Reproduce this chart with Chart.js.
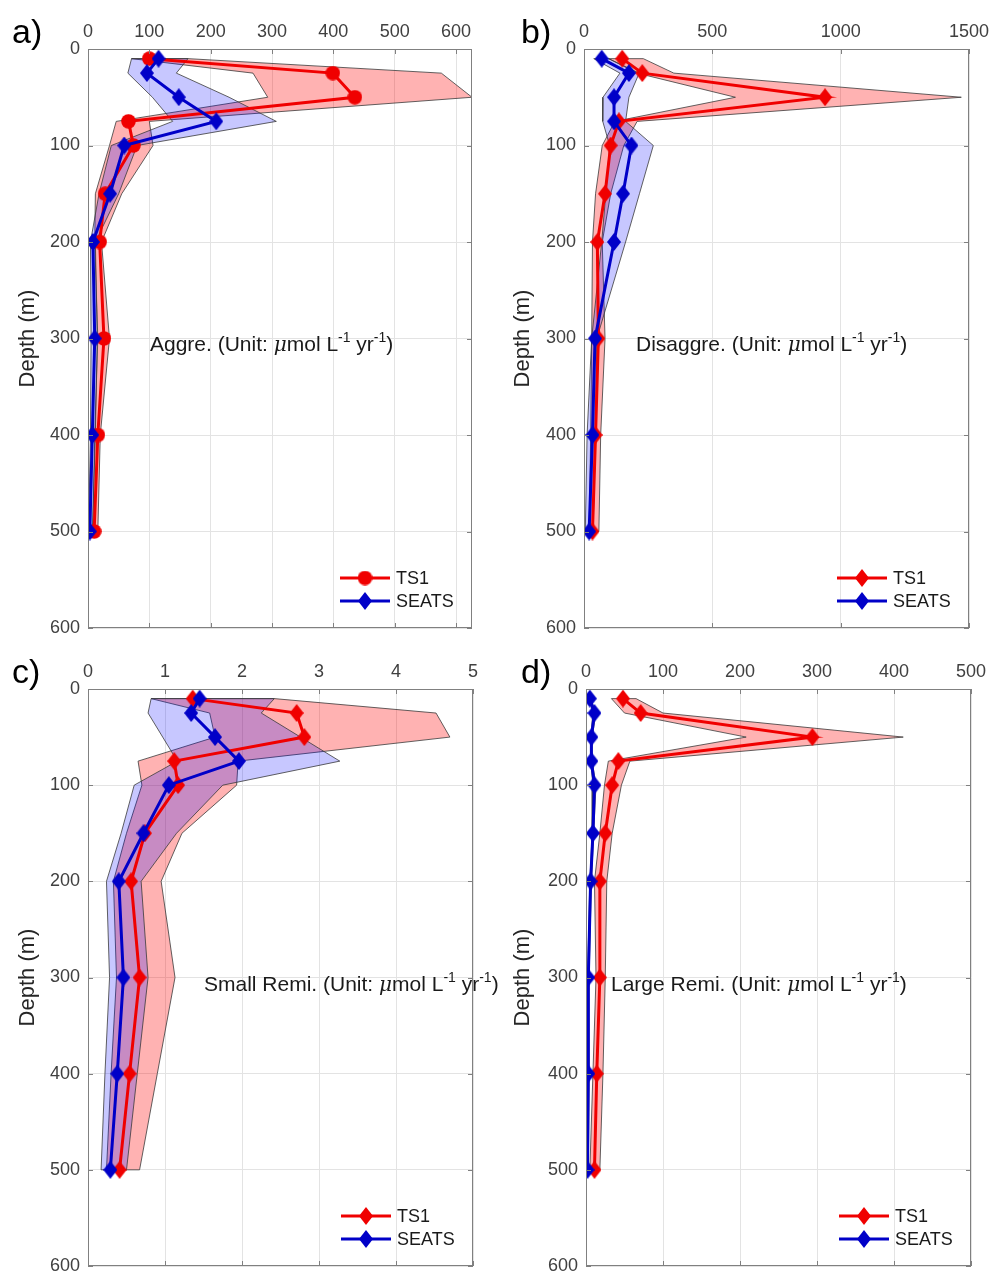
<!DOCTYPE html>
<html>
<head>
<meta charset="utf-8">
<script src="https://cdn.jsdelivr.net/npm/chart.js@4.4.1/dist/chart.umd.min.js"></script>
<style>
  body { margin: 0; background: #fff; }
  #fig { position: relative; width: 990px; height: 1277px; background: #fff;
         font-family: "Liberation Sans", Arial, Helvetica, sans-serif; }
  #fig canvas { position: absolute; }
  .tag { position: absolute; font-size: 34px; line-height: 34px; color: #000; }
  .note { position: absolute; font-size: 21px; line-height: 21px; color: #1a1a1a; white-space: nowrap; }
  .note sup { font-size: 14px; vertical-align: 9px; line-height: 0; }
  .note i { font-family: "DejaVu Serif", serif; font-size: 20px; }
</style>
</head>
<body>
<div id="fig">
  <canvas id="pa" width="495" height="640" style="left:0;top:0"></canvas>
  <canvas id="pb" width="495" height="640" style="left:495px;top:0"></canvas>
  <canvas id="pc" width="495" height="637" style="left:0;top:640px"></canvas>
  <canvas id="pd" width="495" height="637" style="left:495px;top:640px"></canvas>

  <div class="tag" style="left:12px;top:14px">a)</div>
  <div class="tag" style="left:521px;top:14px">b)</div>
  <div class="tag" style="left:12px;top:654px">c)</div>
  <div class="tag" style="left:521px;top:654px">d)</div>

  <div class="note" style="left:150px;top:333px">Aggre. (Unit: <i>μ</i>mol L<sup>-1</sup> yr<sup>-1</sup>)</div>
  <div class="note" style="left:636px;top:333px">Disaggre. (Unit: <i>μ</i>mol L<sup>-1</sup> yr<sup>-1</sup>)</div>
  <div class="note" style="left:204px;top:973px">Small Remi. (Unit: <i>μ</i>mol L<sup>-1</sup> yr<sup>-1</sup>)</div>
  <div class="note" style="left:611px;top:973px">Large Remi. (Unit: <i>μ</i>mol L<sup>-1</sup> yr<sup>-1</sup>)</div>
</div>

<script>
// sampling depths (m)
const depths = [10, 25, 50, 75, 100, 150, 200, 300, 400, 500];
const depthTicks = [0, 100, 200, 300, 400, 500, 600];

// a) aggregation
const aggTicks = [0, 100, 200, 300, 400, 500, 600];
const aggTS1 = [100, 399, 435, 66, 74, 28, 19, 26, 16, 10];
const aggTS1Lo = [71, 269, 293, 46, 35, 12, 11, 16, 11, 8];
const aggTS1Hi = [163, 576, 626, 100, 106, 55, 22, 35, 20, 16];
const aggSEATS = [115, 96, 148, 209, 59, 36, 8, 11, 7, 3];
const aggSEATSLo = [71, 65, 105, 138, 38, 18, 4, 5, 4, 1];
const aggSEATSHi = [163, 144, 230, 307, 80, 50, 12, 15, 12, 7];

// b) disaggregation
const disTicks = [0, 500, 1000, 1500];
const disTS1 = [149, 227, 939, 136, 104, 82, 52, 56, 45, 33];
const disTS1Lo = [96, 207, 590, 120, 71, 45, 33, 30, 26, 20];
const disTS1Hi = [231, 350, 1470, 207, 155, 104, 71, 82, 65, 58];
const disSEATS = [69, 175, 117, 117, 185, 152, 117, 43, 33, 20];
const disSEATSLo = [38, 140, 74, 73, 100, 85, 69, 30, 12, 5];
const disSEATSHi = [96, 215, 175, 162, 270, 216, 162, 50, 45, 35];

// c) small particle remineralization
const smlTicks = [0, 1, 2, 3, 4, 5];
const smlTS1 = [1.36, 2.71, 2.81, 1.12, 1.17, 0.74, 0.56, 0.67, 0.54, 0.41];
const smlTS1Lo = [0.82, 1.58, 1.65, 0.65, 0.70, 0.50, 0.33, 0.37, 0.30, 0.24];
const smlTS1Hi = [2.42, 4.52, 4.70, 1.95, 1.93, 1.22, 0.95, 1.13, 0.90, 0.67];
const smlSEATS = [1.45, 1.34, 1.65, 1.96, 1.05, 0.72, 0.40, 0.46, 0.38, 0.29];
const smlSEATSLo = [0.82, 0.78, 0.97, 1.16, 0.60, 0.43, 0.24, 0.28, 0.22, 0.17];
const smlSEATSHi = [2.42, 2.25, 2.76, 3.27, 1.75, 1.15, 0.69, 0.78, 0.64, 0.50];

// d) large particle remineralization
const lrgTicks = [0, 100, 200, 300, 400, 500];
const lrgTS1 = [48, 71, 294, 42, 34, 25, 18, 18, 14, 11];
const lrgTS1Lo = [33, 50, 208, 29, 24, 18, 11, 13, 9, 5];
const lrgTS1Hi = [65, 100, 412, 57, 46, 34, 27, 25, 22, 18];
const lrgSEATS = [5, 11, 7, 7, 11, 9, 6, 3, 3, 2];
const lrgSEATSLo = [4, 9, 6, 6, 9, 8, 5, 2, 2, 1];
const lrgSEATSHi = [6, 13, 8, 8, 13, 10, 7, 4, 4, 3];

const RED = '#f00000';
const BLUE = '#0000c8';
const RED_BAND = 'rgba(255, 0, 0, 0.3)';
const BLUE_BAND = 'rgba(0, 0, 255, 0.22)';
const AXIS_GREY = '#808080';
const TEXT_GREY = '#404040';

Chart.defaults.font.family = '"Liberation Sans", Arial, Helvetica, sans-serif';

// MATLAB-like diamond marker (a bit taller than wide)
function makeDiamond(color) {
    const c = document.createElement('canvas');
    c.width = 14; c.height = 18;
    const g = c.getContext('2d');
    g.fillStyle = color;
    g.beginPath();
    g.moveTo(7, 0); g.lineTo(14, 9); g.lineTo(7, 18); g.lineTo(0, 9);
    g.closePath();
    g.fill();
    return c;
}

function makeCircle(color) {
    const c = document.createElement('canvas');
    c.width = 15; c.height = 15;
    const g = c.getContext('2d');
    g.fillStyle = color;
    g.beginPath();
    g.arc(7.5, 7.5, 7.3, 0, Math.PI * 2);
    g.fill();
    return c;
}

const redDiamond = makeDiamond(RED);
const blueDiamond = makeDiamond(BLUE);
const redCircle = makeCircle(RED);

function profile(values) {
    return values.map((v, i) => ({ x: v, y: depths[i] }));
}

// closed polygon: lower bound going down, upper bound coming back up
function band(lo, hi) {
    const pts = profile(lo);
    for (let i = hi.length - 1; i >= 0; i--) pts.push({ x: hi[i], y: depths[i] });
    pts.push({ x: lo[0], y: depths[0] });
    return pts;
}

// box with inward ticks, like MATLAB axes
const boxPlugin = {
    id: 'figBox',
    afterDatasetsDraw(chart) {
        const { ctx, chartArea: a, scales } = chart;
        ctx.save();
        ctx.strokeStyle = AXIS_GREY;
        ctx.lineWidth = 1;
        ctx.strokeRect(Math.round(a.left) + 0.5, Math.round(a.top) + 0.5,
                       Math.round(a.width) - 1, Math.round(a.height) - 1);
        ctx.beginPath();
        scales.x.ticks.forEach(t => {
            const px = Math.round(scales.x.getPixelForValue(t.value)) + 0.5;
            ctx.moveTo(px, a.top); ctx.lineTo(px, a.top + 5);
            ctx.moveTo(px, a.bottom); ctx.lineTo(px, a.bottom - 5);
        });
        scales.y.ticks.forEach(t => {
            const py = Math.round(scales.y.getPixelForValue(t.value)) + 0.5;
            ctx.moveTo(a.left, py); ctx.lineTo(a.left + 5, py);
            ctx.moveTo(a.right, py); ctx.lineTo(a.right - 5, py);
        });
        ctx.stroke();
        ctx.restore();
    }
};

// legend: line with marker in the middle, lower right corner
const legendPlugin = {
    id: 'figLegend',
    afterDraw(chart) {
        const { ctx, chartArea: a } = chart;
        const items = chart.data.datasets.filter(d => d.inLegend);
        ctx.save();
        items.forEach((d, i) => {
            const y = a.bottom - 50 + i * 23;
            const x0 = a.right - 132, x1 = a.right - 82, xm = (x0 + x1) / 2;
            ctx.strokeStyle = d.borderColor;
            ctx.lineWidth = 3;
            ctx.beginPath(); ctx.moveTo(x0, y); ctx.lineTo(x1, y); ctx.stroke();
            const img = d.pointStyle;
            ctx.drawImage(img, xm - img.width / 2, y - img.height / 2);
            ctx.fillStyle = '#1a1a1a';
            ctx.font = '18px "Liberation Sans", Arial, sans-serif';
            ctx.textBaseline = 'middle';
            ctx.fillText(d.label, a.right - 76, y + 1);
        });
        ctx.restore();
    }
};

function buildPanel(id, cfg) {
    const ts1Line = { label: 'TS1', data: profile(cfg.ts1), showLine: true, borderColor: RED, borderWidth: 3,
        pointStyle: cfg.ts1Marker, pointRadius: 8, inLegend: true, order: 1 };
    const seatsLine = { label: 'SEATS', data: profile(cfg.seats), showLine: true, borderColor: BLUE, borderWidth: 3,
        pointStyle: blueDiamond, pointRadius: 8, inLegend: true, order: 0 };
    const seatsBand = { label: 'SEATS range', data: band(cfg.seatsLo, cfg.seatsHi), showLine: true,
        borderColor: '#3a3a3a', borderWidth: 0.8, backgroundColor: BLUE_BAND, fill: 'shape',
        pointRadius: 0, order: 2 };
    const ts1Band = { label: 'TS1 range', data: band(cfg.ts1Lo, cfg.ts1Hi), showLine: true,
        borderColor: '#3a3a3a', borderWidth: 0.8, backgroundColor: RED_BAND, fill: 'shape',
        pointRadius: 0, order: 3 };

    return new Chart(document.getElementById(id), {
        type: 'scatter',
        data: { datasets: [ts1Line, seatsLine, seatsBand, ts1Band] },
        options: {
            responsive: false,
            animation: false,
            events: [],
            layout: { padding: { left: 0, top: 0, right: cfg.padRight, bottom: cfg.padBottom } },
            elements: { line: { tension: 0 } },
            plugins: { legend: { display: false }, tooltip: { enabled: false } },
            scales: {
                x: {
                    type: 'linear', position: 'top', min: 0, max: cfg.xMax,
                    afterBuildTicks: s => { s.ticks = cfg.xTicks.map(v => ({ value: v })); },
                    ticks: { color: TEXT_GREY, font: { size: 18 }, padding: 6, maxRotation: 0,
                             autoSkip: false, callback: v => String(v) },
                    grid: { color: '#e3e3e3', drawTicks: false },
                    border: { display: false },
                    afterFit: s => { s.height = 49; s.paddingLeft = 0; s.paddingRight = 0; }
                },
                y: {
                    type: 'linear', reverse: true, min: 0, max: 600,
                    afterBuildTicks: s => { s.ticks = depthTicks.map(v => ({ value: v })); },
                    ticks: { color: TEXT_GREY, font: { size: 18 }, padding: 8, callback: v => String(v) },
                    grid: { color: '#e3e3e3', drawTicks: false },
                    border: { display: false },
                    title: { display: true, text: 'Depth (m)', color: '#262626', font: { size: 22 }, padding: { top: 15, bottom: 0 } },
                    afterFit: s => { s.width = cfg.yWidth; s.paddingTop = 0; s.paddingBottom = 0; }
                }
            }
        },
        plugins: [boxPlugin, legendPlugin]
    });
}

buildPanel('pa', { ts1: aggTS1, ts1Lo: aggTS1Lo, ts1Hi: aggTS1Hi, seats: aggSEATS, seatsLo: aggSEATSLo, seatsHi: aggSEATSHi,
    ts1Marker: redCircle, xMax: 626, xTicks: aggTicks, yWidth: 88, padRight: 23, padBottom: 12 });
buildPanel('pb', { ts1: disTS1, ts1Lo: disTS1Lo, ts1Hi: disTS1Hi, seats: disSEATS, seatsLo: disSEATSLo, seatsHi: disSEATSHi,
    ts1Marker: redDiamond, xMax: 1500, xTicks: disTicks, yWidth: 89, padRight: 21, padBottom: 12 });
buildPanel('pc', { ts1: smlTS1, ts1Lo: smlTS1Lo, ts1Hi: smlTS1Hi, seats: smlSEATS, seatsLo: smlSEATSLo, seatsHi: smlSEATSHi,
    ts1Marker: redDiamond, xMax: 5, xTicks: smlTicks, yWidth: 88, padRight: 22, padBottom: 9 });
buildPanel('pd', { ts1: lrgTS1, ts1Lo: lrgTS1Lo, ts1Hi: lrgTS1Hi, seats: lrgSEATS, seatsLo: lrgSEATSLo, seatsHi: lrgSEATSHi,
    ts1Marker: redDiamond, xMax: 500, xTicks: lrgTicks, yWidth: 91, padRight: 19, padBottom: 9 });
</script>
</body>
</html>
